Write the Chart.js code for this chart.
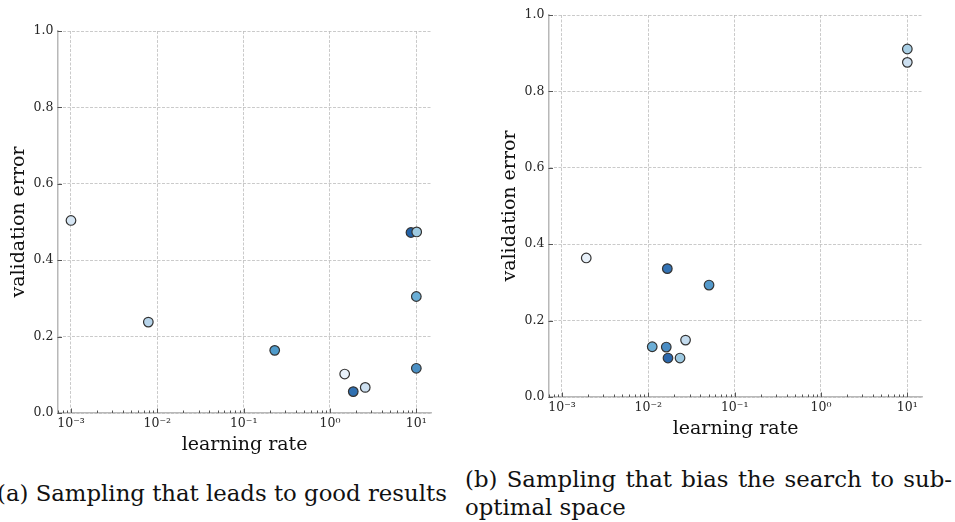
<!DOCTYPE html>
<html>
<head>
<meta charset="utf-8">
<script src="https://cdn.jsdelivr.net/npm/chart.js@4"></script>
<style>
  html, body { margin: 0; padding: 0; background: #fff; }
  body { width: 955px; height: 522px; position: relative; overflow: hidden; }
  .box { position: absolute; width: 450px; height: 470px; }
  .cap { position: absolute; font-family: "DejaVu Serif", serif; font-size: 22.8px; line-height: 28px; color: #111; white-space: nowrap; }
  .just { text-align: justify; text-align-last: justify; white-space: normal; }
</style>
</head>
<body>
<div class="box" style="left:0px; top:0px;"><canvas id="chartA"></canvas></div>
<div class="box" style="left:491px; top:-16px;"><canvas id="chartB"></canvas></div>
<div class="cap" style="left:-3px; top:479px;">(a) Sampling that leads to good results</div>
<div class="cap just" style="left:465px; top:465px; width:487px;">(b) Sampling that bias the search to sub-</div>
<div class="cap" style="left:465px; top:493px;">optimal space</div>
<script>
// ---- data ----
const xTickValues = [1e-3, 1e-2, 1e-1, 1, 10];
const xTickLabels = ['10\u207B\u00B3', '10\u207B\u00B2', '10\u207B\u00B9', '10\u2070', '10\u00B9'];
const yTickValues = [0, 0.2, 0.4, 0.6, 0.8, 1.0];
const yTickLabels = ['0.0', '0.2', '0.4', '0.6', '0.8', '1.0'];
const xLabel = 'learning rate';
const yLabel = 'validation error';

// (a) Sampling that leads to good results
const lrA  = [0.001, 0.00787, 0.229, 1.48, 1.86, 2.56, 8.67, 10.1, 10.0, 10.0];
const errA = [0.504, 0.238, 0.164, 0.102, 0.056, 0.067, 0.4725, 0.474, 0.305, 0.117];
const colA = ['#d6e6f4', '#b7d4ea', '#4f9bcb', '#e9f2fb', '#3070b1', '#cde0f1', '#2262a8', '#9ecae1', '#6aaed6', '#4a8fc4'];

// (b) Sampling that bias the search to sub-optimal space
const lrB  = [10.0, 10.0, 0.00191, 0.0166, 0.0505, 0.0111, 0.01614, 0.0270, 0.0169, 0.0233];
const errB = [0.911, 0.876, 0.364, 0.336, 0.293, 0.1315, 0.1307, 0.149, 0.102, 0.102];
const colB = ['#a9cfe5', '#cde0f1', '#e8f1fa', '#3373b5', '#5499cb', '#6caed6', '#4a8dc4', '#c3dbee', '#2b67ab', '#9dc9e1'];

const xMin = 0.000698, xMax = 15.07;
const FAM = "'DejaVu Serif', serif";

Chart.defaults.font.family = FAM;
Chart.defaults.color = '#222';

const inwardTicks = {
  id: 'inwardTicks',
  afterDraw(chart) {
    const ctx = chart.ctx;
    const xs = chart.scales.x, ys = chart.scales.y;
    const {left, bottom} = chart.chartArea;
    ctx.save();
    ctx.strokeStyle = '#555';
    ctx.lineWidth = 1;
    ctx.beginPath();
    yTickValues.forEach(v => {
      const y = Math.round(ys.getPixelForValue(v)) + 0.5;
      ctx.moveTo(left, y); ctx.lineTo(left + 4.5, y);
    });
    xTickValues.forEach(v => {
      const x = Math.round(xs.getPixelForValue(v)) + 0.5;
      ctx.moveTo(x, bottom); ctx.lineTo(x, bottom - 4.5);
    });
    for (let k = -4; k <= 1; k++) {
      for (let m = 2; m <= 9; m++) {
        const v = m * Math.pow(10, k);
        if (v < xMin || v > xMax) continue;
        const x = Math.round(xs.getPixelForValue(v)) + 0.5;
        ctx.moveTo(x, bottom); ctx.lineTo(x, bottom - 2.5);
      }
    }
    ctx.stroke();
    ctx.restore();
  }
};

function makeChart(id, xs, ys, cols) {
  const pts = xs.map((x, i) => ({x: x, y: ys[i]}));
  return new Chart(document.getElementById(id), {
    type: 'scatter',
    data: {
      datasets: [{
        data: pts,
        pointBackgroundColor: cols,
        pointBorderColor: '#333',
        pointBorderWidth: 1.2,
        pointRadius: 4.8,
        pointHoverRadius: 4.8
      }]
    },
    options: {
      responsive: true,
      maintainAspectRatio: false,
      animation: false,
      events: [],
      layout: { padding: { left: 0, top: 31, right: 18.3, bottom: 0 } },
      plugins: { legend: { display: false }, tooltip: { enabled: false } },
      scales: {
        x: {
          type: 'logarithmic',
          min: xMin,
          max: xMax,
          afterBuildTicks: s => { s.ticks = xTickValues.map(v => ({value: v})); },
          afterFit: s => { s.height = 57; },
          ticks: {
            autoSkip: false,
            maxRotation: 0,
            padding: 3,
            font: { family: FAM, size: 12.5 },
            color: '#262626',
            callback: (v) => { const i = xTickValues.findIndex(t => Math.abs(t - v) / t < 1e-6); return i >= 0 ? xTickLabels[i] : ''; }
          },
          grid: { color: '#bcbcbc', lineWidth: 0.8, drawTicks: false },
          border: { display: true, color: '#b8b8b8', width: 1.5, dash: [3, 1.5] },
          title: { display: true, text: xLabel, font: { family: FAM, size: 19 }, color: '#111', padding: { top: 0, bottom: 13.6 } }
        },
        y: {
          type: 'linear',
          min: 0,
          max: 1,
          afterBuildTicks: s => { s.ticks = yTickValues.map(v => ({value: v})); },
          afterFit: s => { s.width = 57.5; },
          ticks: {
            padding: 4,
            font: { family: FAM, size: 12.5 },
            color: '#262626',
            callback: (v) => { const i = yTickValues.findIndex(t => Math.abs(t - v) < 1e-9); return i >= 0 ? yTickLabels[i] : ''; }
          },
          grid: { color: '#bcbcbc', lineWidth: 0.8, drawTicks: false },
          border: { display: true, color: '#b8b8b8', width: 1.5, dash: [3, 1.5] },
          title: { display: true, text: yLabel, font: { family: FAM, size: 19 }, color: '#111', padding: { top: 7.6, bottom: 0 } }
        }
      }
    },
    plugins: [inwardTicks]
  });
}

makeChart('chartA', lrA, errA, colA);
makeChart('chartB', lrB, errB, colB);
</script>
</body>
</html>
